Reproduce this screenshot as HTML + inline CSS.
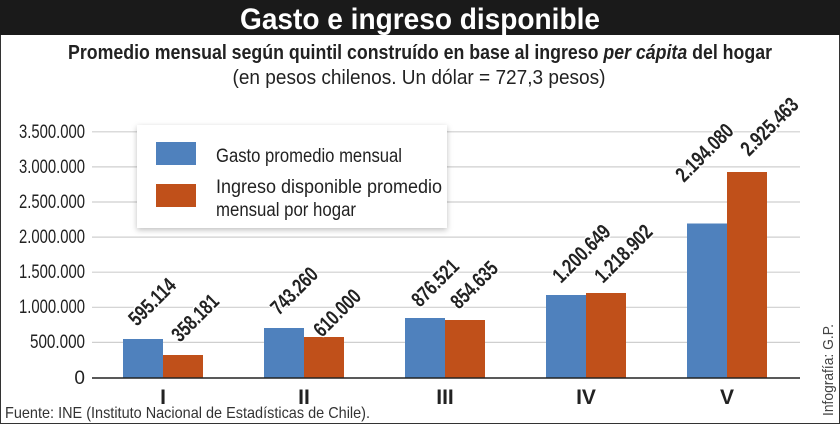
<!DOCTYPE html>
<html><head><meta charset="utf-8"><style>
html,body{margin:0;padding:0;background:#fff}
svg{display:block}
text{font-family:"Liberation Sans",sans-serif}
</style></head><body>
<svg width="840" height="424" viewBox="0 0 840 424" xmlns="http://www.w3.org/2000/svg">
<rect x="0.5" y="0.5" width="839" height="423" fill="#fff" stroke="#333"/>
<rect x="0" y="0" width="840" height="35" fill="#1a1a1a"/>
<text x="420" y="29" text-anchor="middle" font-size="30" font-weight="bold" fill="#fff" textLength="360" lengthAdjust="spacingAndGlyphs">Gasto e ingreso disponible</text>
<text x="420" y="59" text-anchor="middle" font-size="20" font-weight="bold" fill="#222" textLength="704" lengthAdjust="spacingAndGlyphs">Promedio mensual según quintil construído en base al ingreso <tspan font-style="italic">per cápita</tspan> del hogar</text>
<text x="419" y="84" text-anchor="middle" font-size="20" fill="#222" textLength="373" lengthAdjust="spacingAndGlyphs">(en pesos chilenos. Un dólar = 727,3 pesos)</text>
<g stroke="#cfcfcf" stroke-width="1.2">
<line x1="92" x2="800" y1="131.8" y2="131.8"/>
<line x1="92" x2="800" y1="166.9" y2="166.9"/>
<line x1="92" x2="800" y1="202" y2="202"/>
<line x1="92" x2="800" y1="237.1" y2="237.1"/>
<line x1="92" x2="800" y1="272.2" y2="272.2"/>
<line x1="92" x2="800" y1="307.3" y2="307.3"/>
<line x1="92" x2="800" y1="342.4" y2="342.4"/>
</g>
<g font-size="19" fill="#222" text-anchor="end">
<text x="85" y="138" textLength="66" lengthAdjust="spacingAndGlyphs">3.500.000</text>
<text x="85" y="173" textLength="66" lengthAdjust="spacingAndGlyphs">3.000.000</text>
<text x="85" y="208" textLength="66" lengthAdjust="spacingAndGlyphs">2.500.000</text>
<text x="85" y="243" textLength="66" lengthAdjust="spacingAndGlyphs">2.000.000</text>
<text x="85" y="278" textLength="66" lengthAdjust="spacingAndGlyphs">1.500.000</text>
<text x="85" y="313" textLength="66" lengthAdjust="spacingAndGlyphs">1.000.000</text>
<text x="85" y="348" textLength="55" lengthAdjust="spacingAndGlyphs">500.000</text>
<text x="85" y="384">0</text>
</g>
<g fill="#4f81bd">
<rect x="123" y="339" width="40" height="38.5"/>
<rect x="264" y="328" width="40" height="49.5"/>
<rect x="405" y="318" width="40" height="59.5"/>
<rect x="546" y="295" width="40" height="82.5"/>
<rect x="687" y="223.5" width="40" height="154"/>
</g>
<g fill="#c0501a">
<rect x="163" y="355" width="40" height="22.5"/>
<rect x="304" y="337" width="40" height="40.5"/>
<rect x="445" y="320" width="40" height="57.5"/>
<rect x="586" y="293" width="40" height="84.5"/>
<rect x="727" y="172" width="40" height="205.5"/>
</g>
<line x1="92" x2="800" y1="378" y2="378" stroke="#222" stroke-width="1.5"/>
<g font-size="21" font-weight="bold" fill="#222" stroke="#fff" stroke-width="3" paint-order="stroke">
<text transform="translate(137,327) rotate(-45)" textLength="57" lengthAdjust="spacingAndGlyphs">595.114</text>
<text transform="translate(180,343) rotate(-45)" textLength="57" lengthAdjust="spacingAndGlyphs">358.181</text>
<text transform="translate(279,316) rotate(-45)" textLength="57" lengthAdjust="spacingAndGlyphs">743.260</text>
<text transform="translate(322,338) rotate(-45)" textLength="57" lengthAdjust="spacingAndGlyphs">610.000</text>
<text transform="translate(420,308) rotate(-45)" textLength="57" lengthAdjust="spacingAndGlyphs">876.521</text>
<text transform="translate(459,310) rotate(-45)" textLength="57" lengthAdjust="spacingAndGlyphs">854.635</text>
<text transform="translate(561,284) rotate(-45)" textLength="72" lengthAdjust="spacingAndGlyphs">1.200.649</text>
<text transform="translate(603,284) rotate(-45)" textLength="72" lengthAdjust="spacingAndGlyphs">1.218.902</text>
<text transform="translate(684,183) rotate(-45)" textLength="72" lengthAdjust="spacingAndGlyphs">2.194.080</text>
<text transform="translate(749,157) rotate(-45)" textLength="72" lengthAdjust="spacingAndGlyphs">2.925.463</text>
</g>
<g font-size="21" font-weight="bold" fill="#222" text-anchor="middle">
<text x="163" y="404">I</text>
<text x="304" y="404">II</text>
<text x="445" y="404">III</text>
<text x="586" y="404">IV</text>
<text x="727" y="404">V</text>
</g>
<defs><filter id="sh" x="-10%" y="-10%" width="120%" height="130%"><feDropShadow dx="0" dy="2" stdDeviation="3" flood-color="#000" flood-opacity="0.25"/></filter></defs>
<rect x="137" y="125" width="310" height="103" fill="#fff" filter="url(#sh)"/>
<rect x="156" y="142" width="40" height="23" fill="#4f81bd"/>
<rect x="156" y="184" width="40" height="23" fill="#c0501a"/>
<g font-size="19" fill="#222">
<text x="216" y="162" textLength="186" lengthAdjust="spacingAndGlyphs">Gasto promedio mensual</text>
<text x="216" y="193" textLength="226" lengthAdjust="spacingAndGlyphs">Ingreso disponible promedio</text>
<text x="216" y="216" textLength="140" lengthAdjust="spacingAndGlyphs">mensual por hogar</text>
</g>
<text x="5" y="418" font-size="16" fill="#333" textLength="365" lengthAdjust="spacingAndGlyphs">Fuente: INE (Instituto Nacional de Estadísticas de Chile).</text>
<text transform="translate(833,416) rotate(-90)" font-size="15" fill="#444" textLength="92" lengthAdjust="spacingAndGlyphs">Infografía: G.P.</text>
</svg>
</body></html>
